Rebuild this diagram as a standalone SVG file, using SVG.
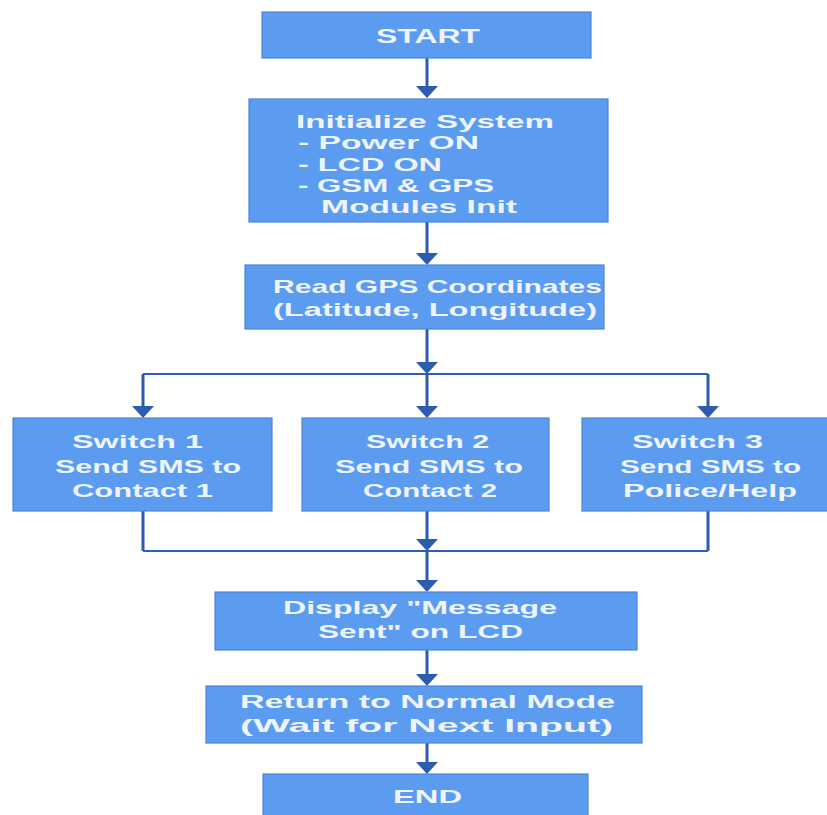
<svg xmlns="http://www.w3.org/2000/svg" width="827" height="815" viewBox="0 0 827 815">
<style>
.box{fill:#5c9cf0;stroke:#4a85d6;stroke-width:1.2}
.t{font-family:"Liberation Sans","Arial",sans-serif;font-weight:bold;fill:#eef4fc;font-size:19px}
.big{font-size:20px}
.c{fill:none;stroke:#2b5cae;stroke-width:3}
.h{fill:none;stroke:#2f5fae;stroke-width:2.2}
</style>
<defs>
<marker id="ah" markerUnits="userSpaceOnUse" markerWidth="12" markerHeight="22" refX="3" refY="11" orient="auto">
<path d="M0,0 L12,11 L0,22 z" fill="#2b5cae"/>
</marker>
</defs>
<rect width="827" height="815" fill="#ffffff"/>
<g id="connectors">
<path class="c" d="M427,58 V89" marker-end="url(#ah)"/>
<path class="c" d="M427,222 V256" marker-end="url(#ah)"/>
<path class="c" d="M427,329 V365" marker-end="url(#ah)"/>
<path class="h" d="M143,374 H708"/>
<path class="c" d="M427,374 V409" marker-end="url(#ah)"/>
<path class="c" d="M143,374 V409" marker-end="url(#ah)"/>
<path class="c" d="M708,374 V409" marker-end="url(#ah)"/>
<path class="c" d="M143,511 V551"/>
<path class="c" d="M708,511 V551"/>
<path class="h" d="M143,551 H708"/>
<path class="c" d="M427,511 V542" marker-end="url(#ah)"/>
<path class="c" d="M427,551 V583" marker-end="url(#ah)"/>
<path class="c" d="M427,650 V677" marker-end="url(#ah)"/>
<path class="c" d="M427,743 V765" marker-end="url(#ah)"/>
</g>
<g id="start">
<rect class="box" x="262" y="12" width="329" height="46"/>
<text class="t big" x="376" y="43" textLength="104" lengthAdjust="spacingAndGlyphs">START</text>
</g>
<g id="init">
<rect class="box" x="249" y="99" width="359" height="123"/>
<text class="t" x="296" y="128" textLength="258" lengthAdjust="spacingAndGlyphs">Initialize System</text>
<text class="t" x="298" y="149.25" textLength="181" lengthAdjust="spacingAndGlyphs">- Power ON</text>
<text class="t" x="298" y="170.5" textLength="144" lengthAdjust="spacingAndGlyphs">- LCD ON</text>
<text class="t" x="298" y="191.75" textLength="196" lengthAdjust="spacingAndGlyphs">- GSM &amp; GPS</text>
<text class="t" x="321" y="213" textLength="196" lengthAdjust="spacingAndGlyphs">Modules Init</text>
</g>
<g id="gps">
<rect class="box" x="245" y="265" width="359" height="64"/>
<text class="t" x="273" y="293" textLength="329" lengthAdjust="spacingAndGlyphs">Read GPS Coordinates</text>
<text class="t" x="273" y="316" textLength="324" lengthAdjust="spacingAndGlyphs">(Latitude, Longitude)</text>
</g>
<g id="switch1">
<rect class="box" x="13" y="418" width="259" height="93"/>
<text class="t" x="72" y="448" textLength="131" lengthAdjust="spacingAndGlyphs">Switch 1</text>
<text class="t" x="55" y="473" textLength="186" lengthAdjust="spacingAndGlyphs">Send SMS to</text>
<text class="t" x="72" y="497" textLength="141" lengthAdjust="spacingAndGlyphs">Contact 1</text>
</g>
<g id="switch2">
<rect class="box" x="302" y="418" width="247" height="93"/>
<text class="t" x="366" y="448" textLength="123" lengthAdjust="spacingAndGlyphs">Switch 2</text>
<text class="t" x="335" y="473" textLength="188" lengthAdjust="spacingAndGlyphs">Send SMS to</text>
<text class="t" x="363" y="497" textLength="134" lengthAdjust="spacingAndGlyphs">Contact 2</text>
</g>
<g id="switch3">
<rect class="box" x="582" y="418" width="250" height="93"/>
<text class="t" x="632" y="448" textLength="131" lengthAdjust="spacingAndGlyphs">Switch 3</text>
<text class="t" x="620" y="473" textLength="181" lengthAdjust="spacingAndGlyphs">Send SMS to</text>
<text class="t" x="623" y="497" textLength="174" lengthAdjust="spacingAndGlyphs">Police/Help</text>
</g>
<g id="display">
<rect class="box" x="215" y="592" width="422" height="58"/>
<text class="t" x="283" y="614" textLength="274" lengthAdjust="spacingAndGlyphs">Display "Message</text>
<text class="t" x="318" y="638" textLength="205" lengthAdjust="spacingAndGlyphs">Sent" on LCD</text>
</g>
<g id="return">
<rect class="box" x="206" y="686" width="436" height="57"/>
<text class="t" x="240" y="708" textLength="375" lengthAdjust="spacingAndGlyphs">Return to Normal Mode</text>
<text class="t" x="240" y="732" textLength="373" lengthAdjust="spacingAndGlyphs">(Wait for Next Input)</text>
</g>
<g id="end">
<rect class="box" x="263" y="774" width="325" height="50"/>
<text class="t" x="393" y="803" textLength="69" lengthAdjust="spacingAndGlyphs">END</text>
</g>
</svg>
